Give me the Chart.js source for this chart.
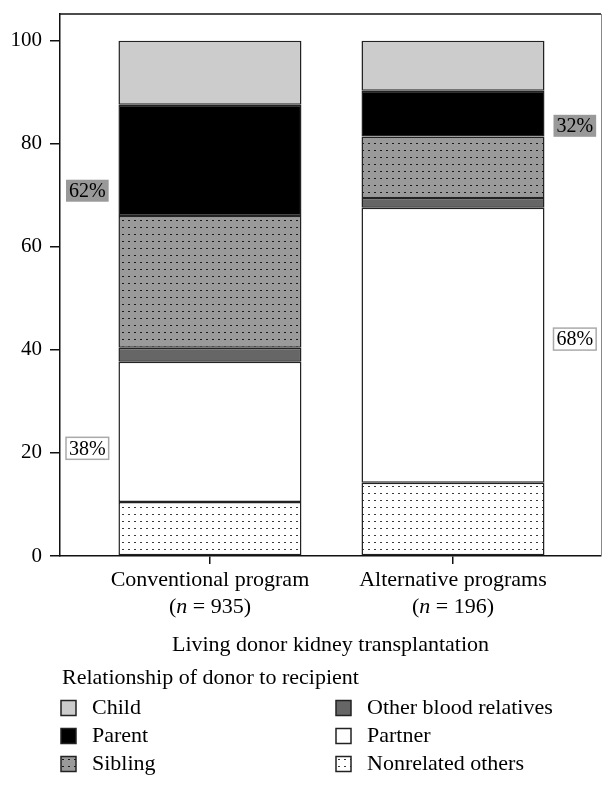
<!DOCTYPE html>
<html>
<head>
<meta charset="utf-8">
<script src="https://cdn.jsdelivr.net/npm/chart.js@4"></script>
<style>
  html, body { margin: 0; padding: 0; background: #fff; }
  canvas { display: block; }
</style>
</head>
<body>
<canvas id="donorChart" width="616" height="787"></canvas>
<script>
// data (percent of donors per program)
const categories = ['Conventional program', 'Alternative programs'];
const sampleSizes = [935, 196];
const nonrelated = [10.5, 14.2];
const partner = [27.2, 53.4];
const otherBlood = [2.7, 1.9];
const sibling = [25.6, 11.9];
const parent = [21.6, 8.9];
const child = [12.4, 9.7];
const yTicks = [0, 20, 40, 60, 80, 100];
// related / unrelated share boxes: text and the value they sit at
const shareLabels = ['62%', '38%', '32%', '68%'];
const shareAt = [70.9, 20.9, 83.5, 42.1];
const legendOrder = ['Child', 'Parent', 'Sibling', 'Other blood relatives', 'Partner', 'Nonrelated others'];

const FONT = "'Liberation Serif', 'Times New Roman', serif";
const canvas = document.getElementById('donorChart');
const ctx = canvas.getContext('2d');

function dotted(bg, dot) {
  const c = document.createElement('canvas');
  c.width = 6; c.height = 7;
  const g = c.getContext('2d');
  g.fillStyle = bg; g.fillRect(0, 0, 6, 7);
  g.fillStyle = dot; g.fillRect(2, 3, 2, 1);
  return ctx.createPattern(c, 'repeat');
}

const fills = {
  'Nonrelated others': dotted('#ffffff', '#3a3a3a'),
  'Partner': '#ffffff',
  'Other blood relatives': '#666666',
  'Sibling': dotted('#9a9a9a', '#1a1a1a'),
  'Parent': '#000000',
  'Child': '#cccccc'
};

const series = [
  ['Nonrelated others', nonrelated],
  ['Partner', partner],
  ['Other blood relatives', otherBlood],
  ['Sibling', sibling],
  ['Parent', parent],
  ['Child', child]
];

const datasets = series.map(([name, vals]) => ({
  label: name,
  data: vals.map((v, i) => ({ x: i, y: v })),
  backgroundColor: fills[name],
  borderColor: '#222',
  borderWidth: 1.5,
  borderSkipped: false,
  categoryPercentage: 1,
  barPercentage: 0.753
}));

const extras = {
  id: 'extras',
  afterDraw(chart) {
    const { ctx, chartArea: a, scales: { x, y } } = chart;
    ctx.save();
    // frame top + right
    ctx.strokeStyle = '#111';
    ctx.lineWidth = 1.5;
    ctx.beginPath(); ctx.moveTo(a.left, a.top); ctx.lineTo(a.right, a.top); ctx.stroke();
    ctx.strokeStyle = '#888';
    ctx.lineWidth = 1;
    ctx.beginPath(); ctx.moveTo(a.right + 0.5, a.top); ctx.lineTo(a.right + 0.5, a.bottom); ctx.stroke();

    // second line of category labels, italic n
    ctx.fillStyle = '#000';
    ctx.textBaseline = 'middle';
    ctx.textAlign = 'left';
    sampleSizes.forEach((n, i) => {
      const parts = [['(', 'normal'], ['n', 'italic'], [' = ' + n + ')', 'normal']];
      let w = 0;
      parts.forEach(p => { ctx.font = p[1] + ' 22px ' + FONT; w += ctx.measureText(p[0]).width; });
      let px = x.getPixelForValue(i) - w / 2;
      parts.forEach(p => {
        ctx.font = p[1] + ' 22px ' + FONT;
        ctx.fillText(p[0], px, 607);
        px += ctx.measureText(p[0]).width;
      });
    });

    // share boxes
    ctx.font = '20px ' + FONT;
    shareLabels.forEach((txt, k) => {
      const cat = k < 2 ? 0 : 1;
      const related = k % 2 === 0;
      const bar = chart.getDatasetMeta(0).data[cat];
      const tw = ctx.measureText(txt).width;
      const bw = tw + 6, bh = 22;
      const bx = cat === 0 ? a.left + 6 : bar.x + bar.width / 2 + 9;
      const cy = y.getPixelForValue(shareAt[k]);
      if (related) {
        ctx.fillStyle = '#999';
        ctx.fillRect(bx, cy - bh / 2, bw, bh);
      } else {
        ctx.fillStyle = '#fff';
        ctx.fillRect(bx, cy - bh / 2, bw, bh);
        ctx.strokeStyle = '#aaa';
        ctx.lineWidth = 1.5;
        ctx.strokeRect(bx, cy - bh / 2, bw, bh);
      }
      ctx.fillStyle = '#000';
      ctx.fillText(txt, bx + 3, cy + 1);
    });

    // legend
    ctx.font = '22px ' + FONT;
    ctx.fillStyle = '#000';
    ctx.fillText('Relationship of donor to recipient', 62, 678);
    legendOrder.forEach((name, i) => {
      const col = Math.floor(i / 3), row = i % 3;
      const bx = col === 0 ? 61 : 336;
      const cy = 708 + row * 28;
      ctx.fillStyle = fills[name];
      ctx.fillRect(bx, cy - 7.5, 15, 15);
      ctx.strokeStyle = '#222';
      ctx.lineWidth = 1.5;
      ctx.strokeRect(bx, cy - 7.5, 15, 15);
      ctx.fillStyle = '#000';
      ctx.fillText(name, bx + 31, cy);
    });
    ctx.restore();
  }
};

new Chart(ctx, {
  type: 'bar',
  data: { datasets },
  options: {
    responsive: false,
    animation: false,
    layout: { padding: { left: 0, right: 15, top: 14, bottom: 127 } },
    font: { family: FONT },
    plugins: { legend: { display: false }, tooltip: { enabled: false } },
    scales: {
      x: {
        type: 'linear',
        stacked: true,
        offset: false,
        min: -0.617,
        max: 1.609,
        afterBuildTicks: s => { s.ticks = categories.map((c, i) => ({ value: i })); },
        afterFit: s => { s.height = 104; s.paddingLeft = 0; s.paddingRight = 0; },
        ticks: {
          callback: v => categories[v],
          font: { family: FONT, size: 22 },
          color: '#000',
          padding: 3,
          maxRotation: 0,
          autoSkip: false
        },
        grid: { display: true, drawOnChartArea: false, drawTicks: true, tickLength: 8, color: '#111', lineWidth: 1.5, offset: false },
        border: { display: true, color: '#111', width: 1.5 },
        title: {
          display: true,
          text: 'Living donor kidney transplantation',
          font: { family: FONT, size: 22 },
          color: '#000',
          padding: { top: 0, bottom: 2 }
        }
      },
      y: {
        stacked: true,
        min: 0,
        max: 105.2,
        afterBuildTicks: s => { s.ticks = yTicks.map(v => ({ value: v })); },
        afterFit: s => { s.width = 60; s.paddingTop = 0; s.paddingBottom = 0; },
        ticks: { font: { family: FONT, size: 21 }, color: '#000', padding: 8 },
        grid: { display: true, drawOnChartArea: false, drawTicks: true, tickLength: 10, color: '#111', lineWidth: 1.5 },
        border: { display: true, color: '#111', width: 1.5 }
      }
    }
  },
  plugins: [extras]
});
</script>
</body>
</html>
